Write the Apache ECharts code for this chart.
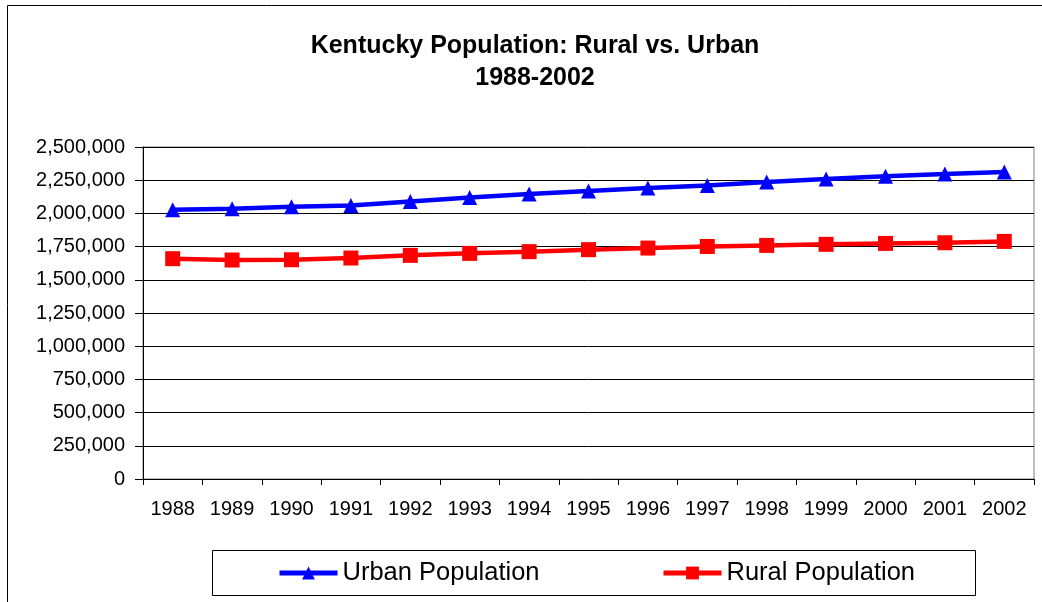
<!DOCTYPE html>
<html>
<head>
<meta charset="utf-8">
<script src="https://cdn.jsdelivr.net/npm/echarts@6/dist/echarts.min.js"></script>
<style>
  html, body { margin: 0; padding: 0; background: #fff; }
  #chart { width: 1042px; height: 602px; }
</style>
</head>
<body>
<div id="chart"></div>
<script>
// Kentucky population by year, split into urban and rural residents
const years = ['1988','1989','1990','1991','1992','1993','1994','1995',
               '1996','1997','1998','1999','2000','2001','2002'];
const urbanPopulation = [2027000, 2035000, 2050000, 2060000, 2090000, 2120000, 2146000, 2168000,
                         2191000, 2211000, 2236000, 2259000, 2279000, 2297000, 2312000];
const ruralPopulation = [1659000, 1649000, 1651000, 1664000, 1684000, 1699000, 1712000, 1727000,
                         1739000, 1751000, 1759000, 1767000, 1774000, 1779000, 1789000];
const yTicks = { min: 0, max: 2500000, step: 250000 };

const FONT = '"Liberation Sans", Arial, sans-serif';
const chart = echarts.init(document.getElementById('chart'), null, { renderer: 'canvas' });

// shared look of the two legend entries
const legendBase = {
  top: 560,
  padding: 0,
  itemWidth: 58,
  itemHeight: 16,
  lineStyle: { width: 5 },
  textStyle: { fontFamily: FONT, fontSize: 25.5, color: '#000' }
};

chart.setOption({
  backgroundColor: '#ffffff',
  animation: false,
  title: {
    text: 'Kentucky Population: Rural vs. Urban\n1988-2002',
    left: 530,
    textAlign: 'center',
    top: 25,
    textStyle: { fontFamily: FONT, fontSize: 25, fontWeight: 'bold', color: '#000', lineHeight: 32 }
  },
  graphic: [
    {
      type: 'rect',
      shape: { x: 7.5, y: 5.5, width: 1050, height: 620 },
      style: { fill: 'none', stroke: '#000', lineWidth: 1 },
      silent: true, z: -1
    },
    {
      type: 'rect',
      shape: { x: 212.5, y: 550.5, width: 763, height: 45 },
      style: { fill: 'none', stroke: '#000', lineWidth: 1 },
      silent: true, z: 0
    }
  ],
  legend: [
    Object.assign({ left: 277, data: ['Urban Population'] }, legendBase),
    Object.assign({ left: 661, data: ['Rural Population'] }, legendBase)
  ],
  grid: { left: 143, right: 8, top: 147, bottom: 123, show: true, borderColor: '#808080', borderWidth: 1 },
  xAxis: {
    type: 'category',
    data: years,
    boundaryGap: true,
    axisLine: { lineStyle: { color: '#000', width: 1 } },
    axisTick: { show: true, length: 6, lineStyle: { color: '#000' }, alignWithLabel: false },
    axisLabel: { fontFamily: FONT, fontSize: 20, color: '#000', margin: 20 },
    splitLine: { show: false }
  },
  yAxis: {
    type: 'value',
    min: yTicks.min,
    max: yTicks.max,
    interval: yTicks.step,
    axisLine: { show: true, lineStyle: { color: '#000', width: 1 } },
    axisTick: { show: true, length: 8, lineStyle: { color: '#000' } },
    axisLabel: {
      fontFamily: FONT, fontSize: 20, color: '#000', margin: 18,
      formatter: v => v.toLocaleString('en-US')
    },
    splitLine: { show: true, lineStyle: { color: '#000', width: 1 } }
  },
  series: [
    {
      name: 'Urban Population',
      type: 'line',
      data: urbanPopulation,
      color: '#0000ff',
      symbol: 'triangle',
      symbolSize: 15,
      lineStyle: { width: 4.5, color: '#0000ff' },
      itemStyle: { color: '#0000ff' }
    },
    {
      name: 'Rural Population',
      type: 'line',
      data: ruralPopulation,
      color: '#ff0000',
      symbol: 'rect',
      symbolSize: 15,
      lineStyle: { width: 4.5, color: '#ff0000' },
      itemStyle: { color: '#ff0000' }
    }
  ]
});
</script>
</body>
</html>
